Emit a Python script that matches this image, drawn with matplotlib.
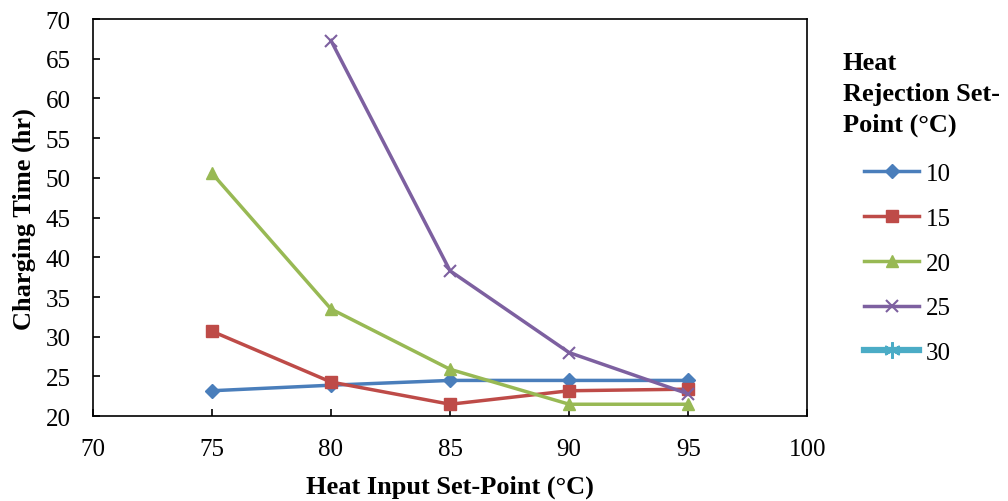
import matplotlib.pyplot as plt

plt.rcParams["font.family"] = ["Liberation Serif", "DejaVu Serif"]

# ── Data ────────────────────────────────────────────────────────────────────
heat_input = [75, 80, 85, 90, 95]          # °C
rej_10 = [23.2, 23.9, 24.5, 24.5, 24.5]
rej_15 = [30.7, 24.3, 21.5, 23.2, 23.4]
rej_20 = [50.6, 33.5, 25.9, 21.5, 21.5]
rej_25_x = [80, 85, 90, 95]
rej_25 = [67.3, 38.3, 28.0, 22.8]
rej_30_x = []                              # legend entry only, no points
rej_30 = []

fig = plt.figure(figsize=(10.08, 5.02), dpi=100)
ax = fig.add_axes([0.092, 0.169, 0.709, 0.791])

ax.plot(heat_input, rej_10, color="#4A7EBB", lw=2.5, marker="D", ms=7, label="10")
ax.plot(heat_input, rej_15, color="#BE4B48", lw=2.5, marker="s", ms=9, label="15")
ax.plot(heat_input, rej_20, color="#98B954", lw=2.5, marker="^", ms=9, label="20")
ax.plot(rej_25_x, rej_25, color="#7D60A0", lw=2.5, marker="x", ms=8, mew=1.5, label="25")
ax.plot(rej_30_x, rej_30, color="#4BACC6", lw=4.5, marker=(6, 2, 0), ms=12, mew=1.5, label="30")

ax.set_xlim(70, 100)
ax.set_ylim(20, 70)
ax.set_xticks(range(70, 101, 5))
ax.set_yticks(range(20, 71, 5))
ax.tick_params(axis="y", direction="in", length=5, labelsize=18, width=1.2, pad=16)
ax.tick_params(axis="x", direction="in", length=5, labelsize=18, width=1.2, pad=16)
for s in ax.spines.values():
    s.set_linewidth(1.2)

ax.set_xlabel("Heat Input Set-Point (°C)", fontsize=19, fontweight="bold", labelpad=10)
ax.set_ylabel("Charging Time (hr)", fontsize=19, fontweight="bold", labelpad=7)

fig.text(0.836, 0.897, "Heat\nRejection Set-\nPoint (°C)", fontsize=19,
         fontweight="bold", va="top", ha="left", linespacing=1.45)
fig.legend(loc="upper left", bbox_to_anchor=(0.835, 0.719), frameon=False,
           fontsize=18, handlelength=2.2, handletextpad=0.25, labelspacing=0.89)

plt.savefig("out.png", dpi=100)
